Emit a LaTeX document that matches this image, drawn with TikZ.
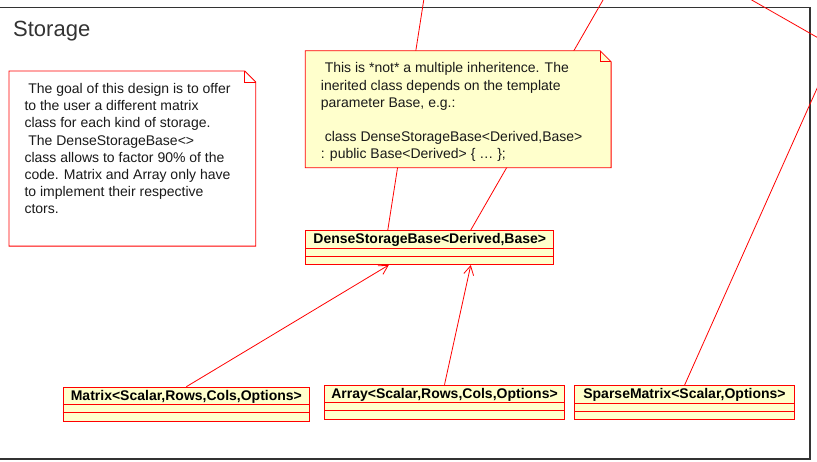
\documentclass[tikz,border=0pt]{standalone}
\usepackage{fontspec}
\setmainfont{Liberation Sans}
\usetikzlibrary{arrows.meta}
\definecolor{umlfill}{HTML}{FFFFCC}
\definecolor{inktext}{HTML}{1A1A1A}
\begin{document}
\begin{tikzpicture}[x=1pt,y=-1pt,
  classbox/.style={draw=red, fill=umlfill, line width=1pt, minimum height=34pt, inner sep=0pt, anchor=north west},
  classname/.style={font=\fontsize{14}{17}\selectfont\bfseries, text=black, inner sep=0pt, anchor=base},
  compart/.style={draw=red, line width=0.8pt},
  notebody/.style={inner sep=0pt, anchor=north west},
  noteshape/.style={draw=red, line width=0.8pt, line join=miter},
  notetext/.style={font=\fontsize{14}{17.2}\selectfont, text=inktext, align=left, inner sep=0pt, anchor=north west},
  link/.style={draw=red, line width=0.8pt},
  generalize/.style={link, -{Straight Barb[length=9pt,width=10pt]}}
]
\useasboundingbox (0,0) rectangle (817,461);
\clip (0,0) rectangle (817,461);
\fill[white] (0,0) rectangle (817,461);

% package frame and its name
\draw[black!80, line width=1.5pt] (-5,7.3) rectangle (810,459);
\node[font=\fontsize{22}{26}\selectfont, text=black!80, anchor=base west, inner sep=0pt] (title) at (13,36) {Storage};

% classes: name compartment plus two empty compartments
\node[classbox, minimum width=248pt]   (dsb) at (305.3,230) {};
\node[classbox, minimum width=246.3pt] (mat) at (62.7,386.7) {};
\node[classbox, minimum width=240pt]   (arr) at (324,384.7) {};
\node[classbox, minimum width=219.4pt] (spm) at (574.3,385.3) {};
\foreach \c in {dsb,mat,arr,spm}{
  \draw[compart] ([yshift=-18pt]\c.north west) -- ([yshift=-18pt]\c.north east);
  \draw[compart] ([yshift=-26pt]\c.north west) -- ([yshift=-26pt]\c.north east);
}
\node[classname] (dsbname) at ([yshift=-13.3pt]dsb.north) {DenseStorageBase<Derived,Base>};
\node[classname] (matname) at ([yshift=-13.3pt]mat.north) {Matrix<Scalar,Rows,Cols,Options>};
\node[classname] (arrname) at ([yshift=-13.3pt]arr.north) {Array<Scalar,Rows,Cols,Options>};
\node[classname] (spmname) at ([yshift=-13.3pt]spm.north) {SparseMatrix<Scalar,Options>};

% relations leading to classes outside this package
\coordinate (up1) at (430,-40);
\coordinate (up2) at (626,-40);
\coordinate (up3) at (852,10);
\coordinate (crossA) at (730,-12.4);
\coordinate (crossB) at (850,56.1);
\draw[link] ([xshift=-42pt]dsb.north) -- (up1);
\draw[link] ([xshift=41pt]dsb.north) -- (up2);
\draw[link] (spm.north) -- (up3);
\draw[link] (crossA) -- (crossB);

% generalizations towards DenseStorageBase
\draw[generalize] (mat.north) -- ([xshift=-41pt]dsb.south);
\draw[generalize] (arr.north) -- ([xshift=41pt]dsb.south);

% comment notes
\node[notebody, minimum width=246.3pt, minimum height=174.7pt] (note1) at (9,71) {};
\filldraw[noteshape, fill=white] (note1.north west) -- ([xshift=-11pt]note1.north east)
  -- ([yshift=-11pt]note1.north east) -- (note1.south east) -- (note1.south west) -- cycle;
\draw[noteshape] ([xshift=-11pt]note1.north east) |- ([yshift=-11pt]note1.north east);
\node[notetext] (note1text) at (24.3,81.3) {\rule{0pt}{12pt}\ The goal of this design is to offer\\to the user a different matrix\\class for each kind of storage.\\ \ The DenseStorageBase<>\\class allows to factor 90\% of the\\code. Matrix and Array only have\\to implement their respective\\ctors.};

\node[notebody, minimum width=305.4pt, minimum height=116.6pt] (note2) at (305.3,50.7) {};
\filldraw[noteshape, fill=umlfill] (note2.north west) -- ([xshift=-11pt]note2.north east)
  -- ([yshift=-11pt]note2.north east) -- (note2.south east) -- (note2.south west) -- cycle;
\draw[noteshape] ([xshift=-11pt]note2.north east) |- ([yshift=-11pt]note2.north east);
\node[notetext] (note2text) at (320.7,60.7) {\rule{0pt}{12pt}\ This is *not* a multiple inheritence. The\\inerited class depends on the template\\parameter Base, e.g.:\\[17.2pt] \ class DenseStorageBase<Derived,Base>\\: public Base<Derived> \{ … \};};
\end{tikzpicture}
\end{document}
